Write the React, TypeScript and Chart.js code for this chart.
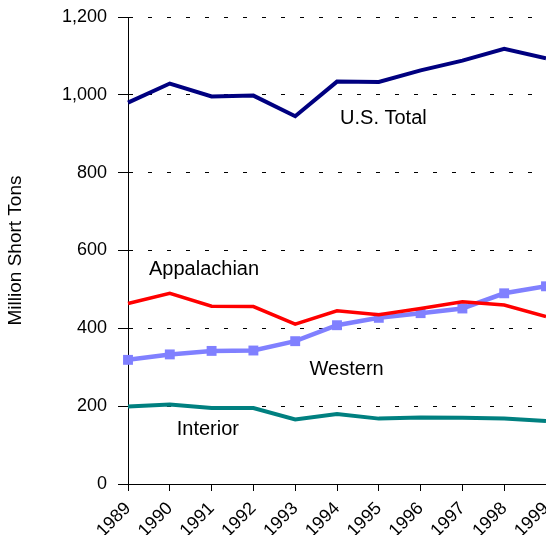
import React, { useEffect, useRef } from "react";
import { Chart, registerables } from "chart.js";

Chart.register(...registerables);

const years = ["1989", "1990", "1991", "1992", "1993", "1994", "1995", "1996", "1997", "1998", "1999"];
const usTotal = [980, 1029, 996, 998, 945, 1034, 1033, 1063, 1088, 1118, 1094];
const appalachian = [464, 490, 457, 456, 411, 445, 435, 451, 468, 460, 430];
const western = [319, 333, 342, 343, 367, 408, 427, 439, 451, 490, 508];
const interior = [199, 204, 195, 195, 166, 180, 168, 171, 170, 168, 162];
const yTicks = [0, 200, 400, 600, 800, 1000, 1200];

const seriesLabels = ["U.S. Total", "Appalachian", "Western", "Interior"];
// annotation anchor positions in data space: [category index, value]
const labelX = [6.11, 1.82, 5.23, 1.91];
const labelY = [940, 552, 293, 141];

const FONT = "'Liberation Sans', Arial, sans-serif";

const annotationPlugin = {
  id: "seriesLabels",
  afterDatasetsDraw(chart: any) {
    const { ctx, scales } = chart;
    ctx.save();
    ctx.font = `20px ${FONT}`;
    ctx.fillStyle = "#000";
    ctx.textAlign = "center";
    ctx.textBaseline = "middle";
    seriesLabels.forEach((t, i) => {
      ctx.fillText(t, scales.x.getPixelForValue(labelX[i]), scales.y.getPixelForValue(labelY[i]));
    });
    ctx.restore();
  },
};

export default function App() {
  const ref = useRef<HTMLCanvasElement | null>(null);
  useEffect(() => {
    if (!ref.current) return;
    const chart = new Chart(ref.current, {
      type: "line",
      data: {
        labels: years,
        datasets: [
          { label: "U.S. Total", data: usTotal, borderColor: "#000080", backgroundColor: "#000080", borderWidth: 4, pointRadius: 0, tension: 0 },
          { label: "Appalachian", data: appalachian, borderColor: "#FF0000", backgroundColor: "#FF0000", borderWidth: 3.5, pointRadius: 0, tension: 0 },
          { label: "Western", data: western, borderColor: "#8080FF", backgroundColor: "#8080FF", borderWidth: 4.5, pointRadius: 7, pointStyle: "rect", pointBorderWidth: 0, pointBorderColor: "#8080FF", tension: 0 },
          { label: "Interior", data: interior, borderColor: "#008080", backgroundColor: "#008080", borderWidth: 4, pointRadius: 0, tension: 0 },
        ],
      },
      options: {
        animation: false,
        responsive: false,
        events: [],
        layout: { autoPadding: false, padding: { top: 17, right: 0, left: 0, bottom: 0 } },
        plugins: { legend: { display: false }, tooltip: { enabled: false } },
        scales: {
          x: {
            type: "category",
            offset: false,
            grid: { drawOnChartArea: false, drawTicks: true, tickLength: 7, color: "#000", lineWidth: 1 },
            border: { display: true, color: "#000", width: 1 },
            ticks: { color: "#000", font: { family: FONT, size: 18 }, maxRotation: 45, minRotation: 45, autoSkip: false, padding: 7 },
            afterFit(scale: any) {
              scale.height = 51;
              scale.paddingLeft = 0;
              scale.paddingRight = 0;
            },
          },
          y: {
            min: 0,
            max: 1200,
            afterBuildTicks(scale: any) {
              scale.ticks = yTicks.map((v) => ({ value: v }));
            },
            grid: { color: "#000", lineWidth: 1, tickLength: 10, drawTicks: true },
            border: { display: true, color: "#000", width: 1, dash: [4, 15] },
            ticks: {
              color: "#000",
              font: { family: FONT, size: 18 },
              padding: 11,
              callback: (v: any) => Number(v).toLocaleString("en-US"),
            },
            title: { display: true, text: "Million Short Tons", color: "#000", font: { family: FONT, size: 19 }, padding: 4 },
            afterFit(scale: any) {
              scale.width = 128;
              scale.paddingTop = 0;
              scale.paddingBottom = 0;
            },
          },
        },
      },
      plugins: [annotationPlugin],
    });
    return () => chart.destroy();
  }, []);
  return (
    <div style={{ position: "absolute", left: 0, top: 0, width: 546, height: 535, background: "#fff" }}>
      <canvas ref={ref} width={546} height={535} style={{ display: "block" }} />
    </div>
  );
}
